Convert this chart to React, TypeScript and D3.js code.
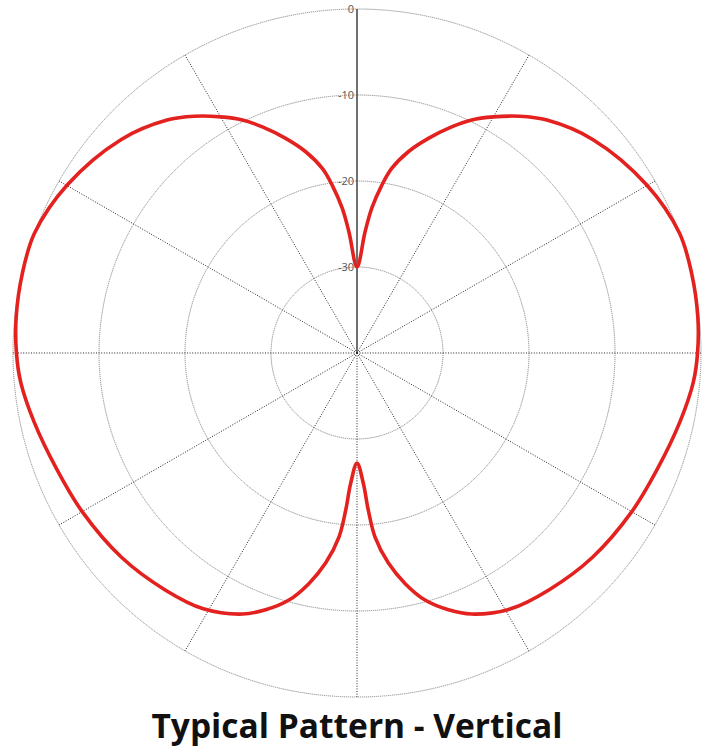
import React from 'react';
import * as d3 from 'd3';

// right half of the pattern (degrees clockwise from top, level in dB); left half is its mirror
const halfAngles = [
  0, 3.8, 5.8, 8.4, 10.6, 14.3, 18.4, 22.7, 26.2, 30, 34.5, 39.2, 47.9, 59.9,
  69.6, 76.6, 84, 90, 95, 102, 111, 120, 131, 141, 149, 156.3, 160.4, 164.6,
  168.2, 171.5, 174.4, 175.9, 177.2, 180,
];
const halfDb = [
  -30, -25.9, -23.1, -20.3, -18.2, -15.85, -13.7, -11.5, -9.8, -8.3, -6.6,
  -5.05, -3.0, -1.05, 0, 0, -0.15, -0.4, -0.75, -1.6, -2.55, -3.1, -3.75,
  -4.55, -5.3, -6.85, -8.3, -10.2, -12.6, -15.3, -18.5, -21.7, -24.8, -27.2,
];

const ringLevels = [0, -10, -20, -30];
const ringLabels = ['0', '-10', '-20', '-30'];
const spokeAngles = [0, 30, 60, 90, 120, 150, 180, 210, 240, 270, 300, 330];
const title = 'Typical Pattern - Vertical';

const width = 720;
const height = 752;

const App = () => {
  const cx = 357;
  const cy = 353;
  const R = 344;

  const r = d3.scaleLinear().domain([-40, 0]).range([0, R]);

  const points: [number, number][] = [];
  halfAngles.forEach((a, i) => points.push([a, halfDb[i]]));
  for (let i = halfAngles.length - 2; i > 0; i--) {
    points.push([360 - halfAngles[i], halfDb[i]]);
  }

  const line = d3
    .lineRadial<[number, number]>()
    .angle((d) => (d[0] * Math.PI) / 180)
    .radius((d) => r(d[1]))
    .curve(d3.curveCatmullRomClosed.alpha(0.5));

  const rad = (a: number) => (a * Math.PI) / 180;

  return (
    <svg
      width={width}
      height={height}
      viewBox={`0 0 ${width} ${height}`}
      style={{ position: 'absolute', left: 0, top: 0, background: '#fff' }}
    >
      <g transform={`translate(${cx},${cy})`}>
        {ringLevels.map((lv) => (
          <circle
            key={lv}
            r={r(lv)}
            fill="none"
            stroke="#8a8a8a"
            strokeWidth={1}
            strokeDasharray="1.2 0.8"
          />
        ))}
        {spokeAngles.map((a) =>
          a === 0 ? null : (
            <line
              key={a}
              x1={0}
              y1={0}
              x2={R * Math.sin(rad(a))}
              y2={-R * Math.cos(rad(a))}
              stroke="#222"
              strokeWidth={1}
              strokeDasharray="1 1.6"
            />
          )
        )}
        <line x1={0} y1={0} x2={0} y2={-R} stroke="#333" strokeWidth={1.4} />
        {ringLevels.map((lv, i) => (
          <text
            key={lv}
            x={-3}
            y={-r(lv)}
            dy="0.35em"
            textAnchor="end"
            fontFamily="'Open Sans', sans-serif"
            fontSize={11}
            fill="#555"
          >
            {ringLabels[i]}
          </text>
        ))}
        <path
          d={line(points) || ''}
          fill="none"
          stroke="#e3211f"
          strokeWidth={3.6}
          strokeLinejoin="round"
        />
      </g>
      <text
        x={cx}
        y={738}
        textAnchor="middle"
        fontFamily="'Open Sans', sans-serif"
        fontWeight="bold"
        fontSize={33.5}
        fill="#111"
      >
        {title}
      </text>
    </svg>
  );
};

export default App;
